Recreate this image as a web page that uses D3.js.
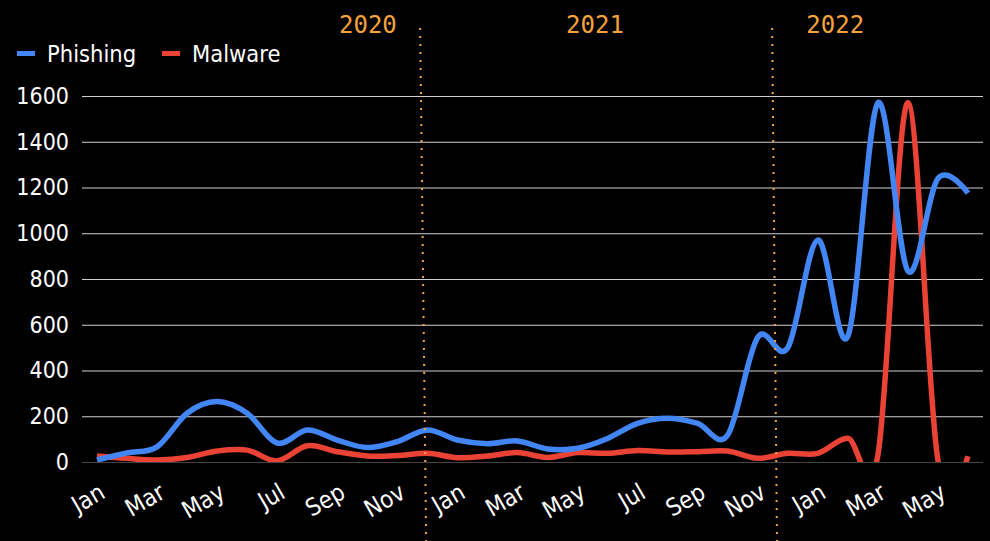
<!DOCTYPE html>
<html><head><meta charset="utf-8">
<script src="https://cdn.jsdelivr.net/npm/d3@7"></script>
<style>
html,body{margin:0;padding:0;background:#000;}
svg{display:block;}
text{font-family:"DejaVu Sans Condensed","DejaVu Sans",sans-serif;font-stretch:condensed;}
</style></head><body><svg id="chart" width="990" height="541"></svg>
<script>
const months = ["Jan","Feb","Mar","Apr","May","Jun","Jul","Aug","Sep","Oct","Nov","Dec",
                "Jan","Feb","Mar","Apr","May","Jun","Jul","Aug","Sep","Oct","Nov","Dec",
                "Jan","Feb","Mar","Apr","May","Jun"];
const phishing = [9, 40, 66, 213, 264, 213, 83, 140, 96, 63, 89, 140,
                  96, 80, 92, 57, 60, 103, 169, 191, 169, 118, 545, 500,
                  970, 550, 1570, 835, 1240, 1175];
const malware  = [26, 16, 9, 20, 48, 52, 5, 71, 45, 26, 28, 38,
                  19, 26, 41, 20, 41, 38, 50, 44, 45, 48, 16, 38,
                  38, 104, 30, 1570, 8, 25];
const yTicks = [0, 200, 400, 600, 800, 1000, 1200, 1400, 1600];
const xTickIdx = [0, 2, 4, 6, 8, 10, 12, 14, 16, 18, 20, 22, 24, 26, 28];
const seriesNames = ["Phishing", "Malware"];
const seriesColors = ["#4285f4", "#ea4335"];
const yearLabels = ["2020", "2021", "2022"];
const yearLabelIdx = [9.02, 16.58, 24.58];
const yearDividerIdx = [[10.76, 10.96], [22.48, 22.64]];

const W = 990, H = 541;
const svg = d3.select("#chart");
svg.append("rect").attr("width", W).attr("height", H).attr("fill", "#000");

const plotL = 82, plotR = 983, plotT = 28, plotB = 462;
const x = d3.scaleLinear().domain([0, months.length - 1]).range([97, 968]);
const y = d3.scaleLinear().domain([0, 1600]).range([plotB, 96]);

// grid + y axis
const yAxis = svg.append("g").attr("transform", `translate(${plotL},0)`)
  .call(d3.axisLeft(y).tickValues(yTicks).tickFormat(d3.format("d")).tickSize(-(plotR - plotL)).tickPadding(13));
yAxis.select(".domain").remove();
yAxis.selectAll(".tick line").attr("stroke", d => d === 0 ? "#444" : "#d0d0d0").attr("stroke-width", 1);
yAxis.selectAll(".tick text").attr("fill", "#fff").attr("font-size", 23);

// x axis
const xAxis = svg.append("g").attr("transform", `translate(0,${plotB})`)
  .call(d3.axisBottom(x).tickValues(xTickIdx).tickFormat(i => months[i]).tickSize(0));
xAxis.select(".domain").remove();
xAxis.selectAll(".tick text")
  .attr("fill", "#fff").attr("font-size", 24)
  .attr("text-anchor", "end").attr("y", 0).attr("dy", 0)
  .attr("transform", "translate(9,35) rotate(-30)");

// clip
svg.append("clipPath").attr("id", "clip").append("rect")
  .attr("x", plotL).attr("y", 0).attr("width", plotR - plotL).attr("height", plotB);

const line = d3.line().x((d, i) => x(i)).y(d => y(d)).curve(d3.curveCatmullRom.alpha(0));
const series = [phishing, malware];
const g = svg.append("g").attr("clip-path", "url(#clip)");
series.slice().reverse().forEach((s, k) => {
  const idx = series.length - 1 - k;
  g.append("path").datum(s).attr("d", line)
    .attr("fill", "none").attr("stroke", seriesColors[idx]).attr("stroke-width", 5.5)
    .attr("stroke-linejoin", "round").attr("stroke-linecap", "butt");
});

// year dividers
yearDividerIdx.forEach(([a, b]) => {
  svg.append("line").attr("x1", x(a)).attr("y1", plotT).attr("x2", x(b)).attr("y2", H)
    .attr("stroke", "#f5a33a").attr("stroke-width", 2).attr("stroke-dasharray", "2,6");
});
yearLabels.forEach((t, i) => {
  svg.append("text").attr("x", x(yearLabelIdx[i])).attr("y", 33)
    .attr("text-anchor", "middle").attr("fill", "#f5a33a")
    .style("font-family", "'DejaVu Sans Mono', monospace").style("font-stretch", "normal")
    .attr("font-size", 24).text(t);
});

// legend
const legX = [17, 162];
seriesNames.forEach((n, i) => {
  svg.append("rect").attr("x", legX[i]).attr("y", 51).attr("width", 18).attr("height", 5)
    .attr("fill", seriesColors[i]);
  svg.append("text").attr("x", legX[i] + 30).attr("y", 62).attr("fill", "#fff")
    .attr("font-size", 23.5).text(n);
});
</script></body></html>
